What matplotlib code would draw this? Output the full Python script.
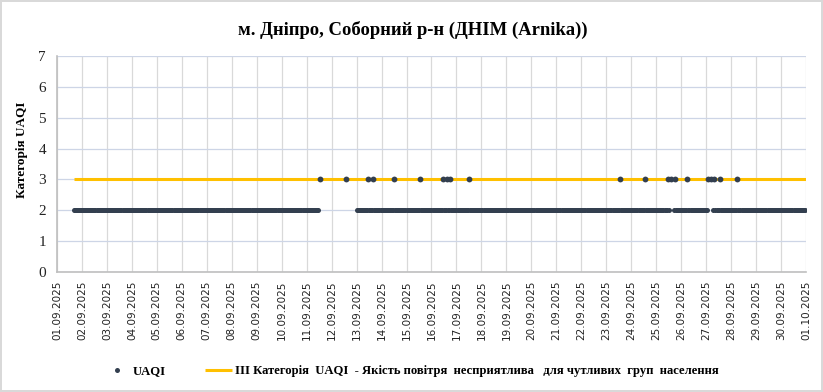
import matplotlib
matplotlib.use('Agg')
import matplotlib.pyplot as plt
import matplotlib.dates as mdates
import pandas as pd

# ---- data (hourly readings) ----
# periods where UAQI category was 2
cat2_periods = [
    ('2025-09-01 16:00', '2025-09-11 11:00'),
    ('2025-09-13 00:00', '2025-09-25 12:00'),
    ('2025-09-25 17:00', '2025-09-27 02:00'),
    ('2025-09-27 07:00', '2025-09-30 23:00'),
]
# hours where UAQI category was 3
cat3_times = [
    '2025-09-11 13:00', '2025-09-12 14:00', '2025-09-13 11:00', '2025-09-13 16:00',
    '2025-09-14 12:00', '2025-09-15 13:00', '2025-09-16 11:00', '2025-09-16 15:00',
    '2025-09-16 18:00', '2025-09-17 12:00', '2025-09-23 13:00', '2025-09-24 13:00',
    '2025-09-25 11:00', '2025-09-25 14:00', '2025-09-25 18:00', '2025-09-26 06:00',
    '2025-09-27 02:00', '2025-09-27 05:00', '2025-09-27 08:00', '2025-09-27 13:00',
    '2025-09-28 06:00',
]
threshold = 3
threshold_span = ('2025-09-01 16:00', '2025-10-01 00:00')

title = 'м. Дніпро, Соборний р-н (ДНІМ (Arnika))'
ylabel = 'Категорія UAQI'
series_name = 'UAQI'
threshold_name = 'ІІІ Категорія  UAQI  - Якість повітря  несприятлива   для чутливих  груп  населення'

# ---- build series ----
t2 = pd.DatetimeIndex([])
for a, b in cat2_periods:
    t2 = t2.append(pd.date_range(a, b, freq='h'))
t3 = pd.to_datetime(cat3_times)
t2 = t2.difference(t3)

dark = '#333f4f'
gold = '#ffc000'

fig = plt.figure(figsize=(8.23, 3.92), dpi=100)
fig.patch.set_edgecolor('#d9d9d9')
fig.patch.set_linewidth(1.5)
ax = fig.add_axes([57/823, 1 - 272/392, (806 - 57)/823, (272 - 56)/392])

thr_x = pd.to_datetime(list(threshold_span))
ax.plot(thr_x, [threshold, threshold], color=gold, lw=2.2, solid_capstyle='butt',
        label=threshold_name, zorder=2)
ax.plot(t2, [2] * len(t2), 'o', color=dark, ms=3.6, mew=0, zorder=3, label=series_name)
ax.plot(t3, [3] * len(t3), 'o', color=dark, ms=4.2, mew=0, zorder=3)

ax.set_xlim(pd.Timestamp('2025-09-01'), pd.Timestamp('2025-10-01'))
ax.set_ylim(0, 7)
ax.set_yticks(range(0, 8))
ax.xaxis.set_major_locator(mdates.DayLocator())
ax.xaxis.set_major_formatter(mdates.DateFormatter('%d.%m.%Y'))
plt.setp(ax.get_xticklabels(), rotation=90, fontsize=7.5, family='DejaVu Sans', color='#222222')
plt.setp(ax.get_yticklabels(), fontsize=11, family='Liberation Serif', color='#222222')
ax.tick_params(axis='x', length=0, pad=6)
ax.tick_params(axis='y', length=0, pad=8)

ax.grid(axis='x', color='#d9d9d9', lw=0.9)
ax.grid(axis='y', color='#cdd5e6', lw=0.9)
ax.set_axisbelow(True)
for s in ['top', 'right']:
    ax.spines[s].set_visible(False)
for s in ['left', 'bottom']:
    ax.spines[s].set_color('#bfbfbf')
    ax.spines[s].set_linewidth(1.2)

fig.text(413/823, 1 - 30/392, title, ha='center', va='center', fontsize=13.4,
         fontweight='bold', family='Liberation Serif')
fig.text(22/823, 1 - 150/392, ylabel, ha='center', va='center', rotation=90,
         fontsize=9.5, fontweight='bold', family='Liberation Serif')

h, l = ax.get_legend_handles_labels()
leg = fig.legend(h[::-1], l[::-1], loc='center left', bbox_to_anchor=(92/823, 1 - 371/392),
                 ncol=2, frameon=False, handlelength=2.1, handletextpad=0.25,
                 columnspacing=3.1, prop={'family': 'Liberation Serif', 'weight': 'bold', 'size': 9.1})

fig.savefig('out.png', dpi=100, edgecolor=fig.get_edgecolor())
